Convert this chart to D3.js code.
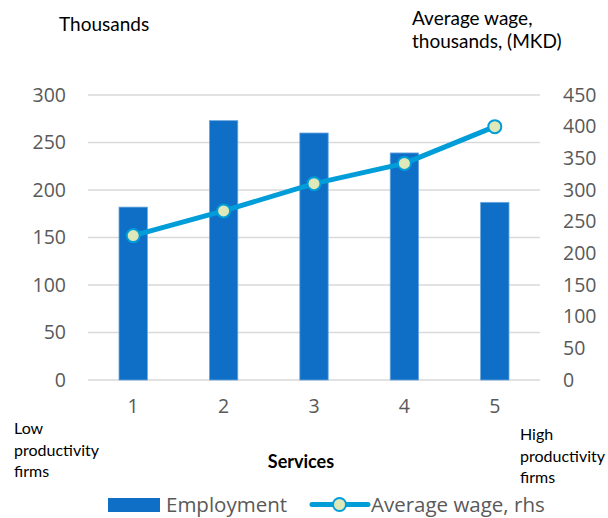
<!DOCTYPE html>
<html>
<head>
<meta charset="utf-8">
<script src="https://cdn.jsdelivr.net/npm/d3@7"></script>
<style>
  html, body { margin: 0; padding: 0; background: #fff; }
  svg { display: block; }
</style>
</head>
<body>
<svg id="chart" width="608" height="518"></svg>
<script>
// Productivity quintiles of service firms
const categories = ["1", "2", "3", "4", "5"];
// Employment, thousands (left axis)
const employment = [182, 273, 260, 239, 187];
// Average wage, thousands MKD (right axis)
const avgWage = [228, 267, 310, 342, 400];
const leftTicks = [0, 50, 100, 150, 200, 250, 300];
const rightTicks = [0, 50, 100, 150, 200, 250, 300, 350, 400, 450];

const svg = d3.select("#chart");
const plot = { left: 88, right: 540, top: 95, bottom: 380 };

const x = d3.scaleBand()
  .domain(categories)
  .range([plot.left, plot.right])
  .paddingInner(0.686)
  .paddingOuter(0.343);
const yL = d3.scaleLinear().domain([0, 300]).range([plot.bottom, plot.top]);
const yR = d3.scaleLinear().domain([0, 450]).range([plot.bottom, plot.top]);

const tickFont = "'Open Sans', sans-serif";
const noteFont = "Lato, 'Open Sans', sans-serif";
const grey = "#595959";

// gridlines
svg.append("g")
  .selectAll("line")
  .data(leftTicks)
  .join("line")
  .attr("x1", plot.left).attr("x2", plot.right)
  .attr("y1", d => yL(d)).attr("y2", d => yL(d))
  .attr("stroke", "#d9d9d9").attr("stroke-width", 1.5);

// left axis
const axL = svg.append("g")
  .attr("transform", `translate(${plot.left - 22},0)`)
  .call(d3.axisLeft(yL).tickValues(leftTicks).tickSize(0).tickPadding(0));
// right axis
const axR = svg.append("g")
  .attr("transform", `translate(${plot.right + 23},0)`)
  .call(d3.axisRight(yR).tickValues(rightTicks).tickSize(0).tickPadding(0));
// category axis
const axX = svg.append("g")
  .attr("transform", `translate(0,${plot.bottom + 19})`)
  .call(d3.axisBottom(x).tickSize(0).tickPadding(0));

[axL, axR, axX].forEach(ax => {
  ax.select(".domain").remove();
  ax.selectAll("text")
    .attr("fill", grey)
    .style("font-family", tickFont)
    .style("font-size", "19.5px");
});

// employment bars
svg.append("g")
  .selectAll("rect")
  .data(employment)
  .join("rect")
  .attr("x", (d, i) => x(categories[i]))
  .attr("width", x.bandwidth())
  .attr("y", d => yL(d))
  .attr("height", d => yL(0) - yL(d))
  .attr("fill", "#0f6fc6")
  .attr("stroke", "#6aa6e0")
  .attr("stroke-width", 0.8);

// average wage line
const cx = (d, i) => x(categories[i]) + x.bandwidth() / 2;
svg.append("path")
  .datum(avgWage)
  .attr("d", d3.line().x(cx).y(d => yR(d)))
  .attr("fill", "none")
  .attr("stroke", "#009dd9")
  .attr("stroke-width", 5)
  .attr("stroke-linejoin", "round");

svg.append("g")
  .selectAll("circle")
  .data(avgWage)
  .join("circle")
  .attr("cx", cx)
  .attr("cy", d => yR(d))
  .attr("r", 6.5)
  .attr("fill", "#dfe8b8")
  .attr("stroke", "#009dd9")
  .attr("stroke-width", 2);

// annotations
const note = (x0, y0, lines, size, opts = {}) => {
  const t = svg.append("text")
    .attr("x", x0).attr("y", y0)
    .attr("fill", opts.fill || "#000")
    .attr("text-anchor", opts.anchor || "start")
    .style("font-family", noteFont)
    .style("font-size", size + "px")
    .style("font-weight", opts.weight || "normal");
  lines.forEach((s, i) => t.append("tspan").attr("x", x0).attr("dy", i ? opts.lh : 0).text(s));
};
note(59, 31, ["Thousands"], 19);
note(412, 25, ["Average wage,", "thousands, (MKD)"], 19, { lh: 23 });
note(14, 434, ["Low", "productivity", "firms"], 16, { lh: 21.5 });
note(520, 440, ["High", "productivity", "firms"], 16, { lh: 21.5 });
note(301, 468, ["Services"], 18, { anchor: "middle", weight: "bold" });

// legend
const lg = svg.append("g");
lg.append("rect")
  .attr("x", 108).attr("y", 498).attr("width", 52).attr("height", 14)
  .attr("fill", "#0f6fc6");
lg.append("text")
  .attr("x", 166).attr("y", 511.5)
  .attr("fill", grey)
  .style("font-family", tickFont).style("font-size", "20.5px")
  .text("Employment");
lg.append("line")
  .attr("x1", 312).attr("x2", 368).attr("y1", 504.5).attr("y2", 504.5)
  .attr("stroke", "#009dd9").attr("stroke-width", 5).attr("stroke-linecap", "round");
lg.append("circle")
  .attr("cx", 339.5).attr("cy", 504.5).attr("r", 6.5)
  .attr("fill", "#dfe8b8").attr("stroke", "#009dd9").attr("stroke-width", 2);
lg.append("text")
  .attr("x", 371).attr("y", 511.5)
  .attr("fill", grey)
  .style("font-family", tickFont).style("font-size", "20.5px")
  .text("Average wage, rhs");
</script>
</body>
</html>
